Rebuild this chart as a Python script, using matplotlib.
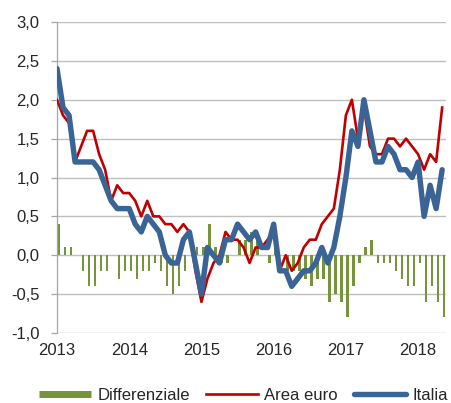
import numpy as np
import matplotlib
matplotlib.use('Agg')
import matplotlib.pyplot as plt
from matplotlib.lines import Line2D

# monthly data, Jan 2013 - May 2018
italia = [2.4, 1.9, 1.8, 1.2, 1.2, 1.2, 1.2, 1.1, 0.9, 0.7, 0.6, 0.6,
          0.6, 0.4, 0.3, 0.5, 0.4, 0.3, 0.0, -0.1, -0.1, 0.2, 0.3, -0.1,
          -0.5, 0.1, 0.0, -0.1, 0.2, 0.2, 0.4, 0.3, 0.2, 0.3, 0.1, 0.1,
          0.4, -0.2, -0.2, -0.4, -0.3, -0.2, -0.2, -0.1, 0.1, -0.1, 0.1, 0.5,
          1.0, 1.6, 1.4, 2.0, 1.6, 1.2, 1.2, 1.4, 1.3, 1.1, 1.1, 1.0,
          1.2, 0.5, 0.9, 0.6, 1.1]
area_euro = [2.0, 1.8, 1.7, 1.2, 1.4, 1.6, 1.6, 1.3, 1.1, 0.7, 0.9, 0.8,
             0.8, 0.7, 0.5, 0.7, 0.5, 0.5, 0.4, 0.4, 0.3, 0.4, 0.3, -0.2,
             -0.6, -0.3, -0.1, 0.0, 0.3, 0.2, 0.2, 0.1, -0.1, 0.1, 0.1, 0.2,
             0.3, -0.2, 0.0, -0.2, -0.1, 0.1, 0.2, 0.2, 0.4, 0.5, 0.6, 1.1,
             1.8, 2.0, 1.5, 1.9, 1.4, 1.3, 1.3, 1.5, 1.5, 1.4, 1.5, 1.4,
             1.3, 1.1, 1.3, 1.2, 1.9]
differenziale = [0.4, 0.1, 0.1, 0.0, -0.2, -0.4, -0.4, -0.2, -0.2, 0.0, -0.3, -0.2,
                 -0.2, -0.3, -0.2, -0.2, -0.1, -0.2, -0.4, -0.5, -0.4, -0.2, 0.0, 0.1,
                 0.1, 0.4, 0.1, -0.1, -0.1, 0.0, 0.2, 0.2, 0.3, 0.2, 0.0, -0.1,
                 0.1, 0.0, -0.2, -0.2, -0.2, -0.3, -0.4, -0.3, -0.3, -0.6, -0.5, -0.6,
                 -0.8, -0.4, -0.1, 0.1, 0.2, -0.1, -0.1, -0.1, -0.2, -0.3, -0.4, -0.4,
                 -0.1, -0.6, -0.4, -0.6, -0.8]
years = ['2013', '2014', '2015', '2016', '2017', '2018']
yticks = [-1.0, -0.5, 0.0, 0.5, 1.0, 1.5, 2.0, 2.5, 3.0]

green = '#77933C'
red = '#C00000'
blue = '#3A6496'
txt = '#262626'

plt.rcParams['font.family'] = ['Liberation Sans', 'DejaVu Sans']

fig = plt.figure(figsize=(4.51, 4.03), dpi=100)
ax = fig.add_axes([0.1264, 0.1737, 0.862, 0.7717])

x = np.arange(len(italia))
ax.bar(x + 0.3, differenziale, width=0.42, color=green, zorder=2)
ax.plot(x, area_euro, color=red, lw=1.9, solid_joinstyle='round', zorder=3)
ax.plot(x, italia, color=blue, lw=3.9, solid_joinstyle='round',
        solid_capstyle='round', zorder=4)

ax.set_ylim(-1.0, 3.0)
ax.set_xlim(0, 64.6)
ax.set_yticks(yticks)
ax.set_yticklabels([('%.1f' % v).replace('.', ',') for v in yticks])
ax.set_xticks(np.arange(len(years)) * 12)
ax.set_xticklabels(years)
ax.yaxis.grid(True, color='#BFBFBF', lw=1.0, zorder=0)
ax.set_axisbelow(True)

for s in ['top', 'right', 'bottom']:
    ax.spines[s].set_visible(False)
ax.spines['left'].set_color('#A6A6A6')
ax.spines['left'].set_linewidth(0.9)

ax.tick_params(axis='y', length=4.5, width=0.9, color='#A6A6A6',
               labelsize=12, labelcolor=txt, pad=8)
ax.tick_params(axis='x', length=0, labelsize=12, labelcolor=txt, pad=7)

handles = [Line2D([], [], color=green, lw=5, solid_capstyle='butt'),
           Line2D([], [], color=red, lw=1.9),
           Line2D([], [], color=blue, lw=3.9, solid_capstyle='round')]
fig.legend(handles, ['Differenziale', 'Area euro', 'Italia'],
           loc='center', bbox_to_anchor=(0.54, 0.019), ncol=3, frameon=False,
           fontsize=12, handlelength=3.1, handletextpad=0.4,
           columnspacing=0.95, labelcolor=txt)

fig.savefig('out.png', dpi=100)
